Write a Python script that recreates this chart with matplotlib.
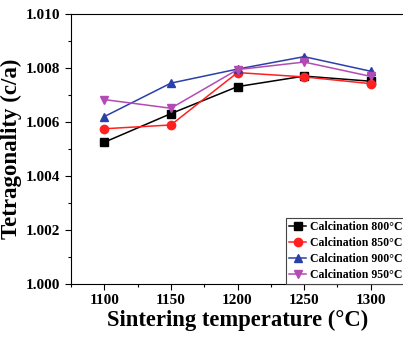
import matplotlib
matplotlib.use("Agg")
import matplotlib.pyplot as plt
from matplotlib.ticker import MultipleLocator

plt.rcParams['font.family'] = ['Liberation Serif', 'DejaVu Serif']
plt.rcParams['font.weight'] = 'bold'

temps = [1100, 1150, 1200, 1250, 1300]
c800 = [1.00525, 1.00631, 1.00731, 1.00770, 1.00751]
c850 = [1.00575, 1.00589, 1.00783, 1.00767, 1.00742]
c900 = [1.00620, 1.00744, 1.00796, 1.00842, 1.00788]
c950 = [1.00683, 1.00651, 1.00794, 1.00822, 1.00769]
labels = ['Calcination 800°C', 'Calcination 850°C', 'Calcination 900°C', 'Calcination 950°C']
colors = ['#000000', '#ff2020', '#2b3fa8', '#b44bb4']
markers = ['s', 'o', '^', 'v']

fig = plt.figure(figsize=(4.03, 3.38), dpi=100)
ax = fig.add_axes([71/403, 1-284/338, 333/403, (284-14)/338])

for ys, lab, c, m in zip([c800, c850, c900, c950], labels, colors, markers):
    ax.plot(temps, ys, color=c, marker=m, markersize=6, linewidth=1.1, label=lab)

ax.set_xlim(1075, 1325)
ax.set_ylim(1.000, 1.010)
ax.xaxis.set_major_locator(MultipleLocator(50))
ax.xaxis.set_minor_locator(MultipleLocator(25))
ax.yaxis.set_major_locator(MultipleLocator(0.002))
ax.yaxis.set_minor_locator(MultipleLocator(0.001))
ax.yaxis.set_major_formatter(plt.FormatStrFormatter('%.3f'))
ax.tick_params(which='major', direction='out', length=4, width=0.8, labelsize=11)
ax.tick_params(which='minor', direction='out', length=2.5, width=0.8)
for lab in ax.get_xticklabels() + ax.get_yticklabels():
    lab.set_fontweight('bold')
ax.spines['right'].set_visible(False)

ax.set_xlabel('Sintering temperature (°C)', fontsize=16.3, fontweight='bold', labelpad=2)
ax.set_ylabel('Tetragonality (c/a)', fontsize=16.5, fontweight='bold', labelpad=3)

leg = ax.legend(loc='lower left', bbox_to_anchor=(0.645, 0.0), borderaxespad=0,
                handlelength=1.5, handletextpad=0.3, labelspacing=0.33,
                borderpad=0.25, fancybox=False, framealpha=1, edgecolor='#444444',
                prop={'weight': 'bold', 'size': 8.5})
leg.get_frame().set_linewidth(0.8)

fig.savefig('out.png', dpi=100)
